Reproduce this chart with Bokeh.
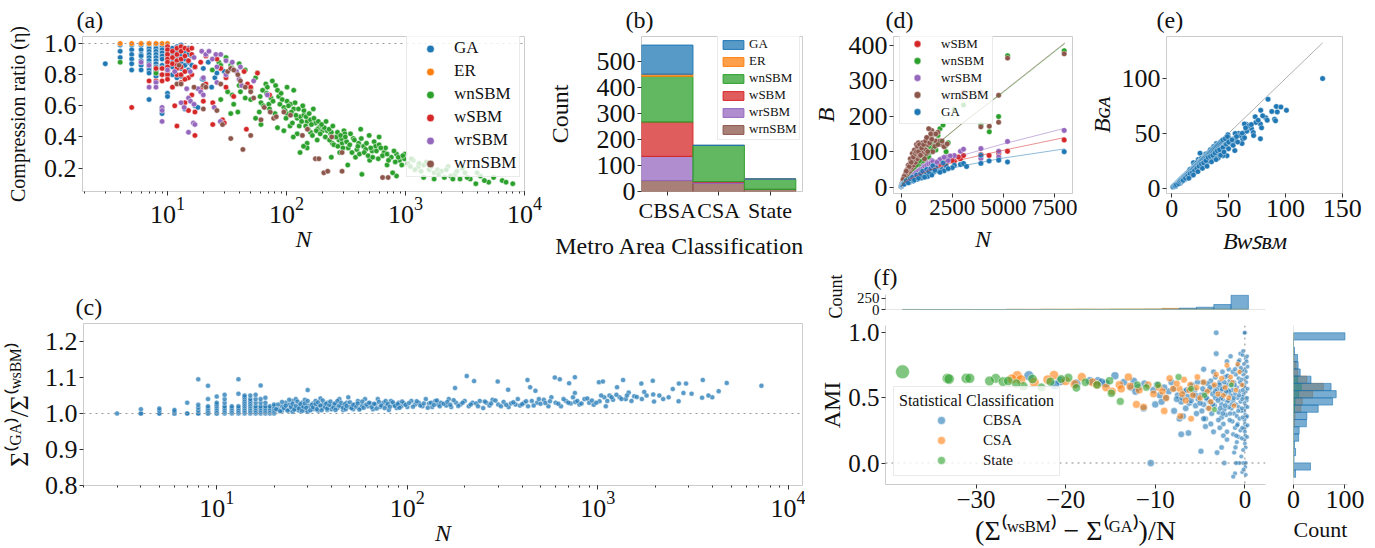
import numpy as np
from bokeh.plotting import figure
from bokeh.models import (Range1d, FixedTicker, Legend, LegendItem, Span, ColumnDataSource, Title,
                          PrintfTickFormatter)
from bokeh.layouts import row, column
from bokeh.embed import file_html
from bokeh.resources import INLINE

# ---------------------------------------------------------------- data
MODELS = ["GA", "ER", "wnSBM", "wSBM", "wrSBM", "wrnSBM"]
COL = {"GA": "#1f77b4", "ER": "#ff7f0e", "wnSBM": "#2ca02c", "wSBM": "#d62728",
       "wrSBM": "#9467bd", "wrnSBM": "#8c564b"}

# (a) compression ratio eta vs N, coloured by best model
a_ga = [(3,0.87),(4,0.99),(4,0.95),(4,0.91),(5,0.99),(5,0.96),(5,0.93),(5,0.90),(5,0.87),(5,0.83),
        (6,0.99),(6,0.96),(6,0.93),(6,0.92),(6,0.89),(6,0.86),(6,0.83),
        (7,0.99),(7,0.97),(7,0.95),(7,0.93),(7,0.91),(7,0.89),(7,0.87),(7,0.85),(7,0.83),(7,0.81),(7,0.64),
        (8,0.99),(8,0.97),(8,0.95),(8,0.93),(8,0.91),(8,0.89),(8,0.87),(8,0.85),(8,0.83),(8,0.81),(8,0.79),
        (9,0.98),(9,0.96),(9,0.94),(9,0.92),(9,0.90),(9,0.86),(9,0.84),(9,0.80),(9,0.58),(9,0.55),
        (10,0.98),(10,0.96),(10,0.94),(10,0.91),(10,0.89),(10,0.87),(10,0.85),(10,0.82),(10,0.79),(10,0.68),(10,0.66),
        (11,0.97),(11,0.94),(11,0.91),(11,0.88),(11,0.85),(11,0.80),(12,0.98),(12,0.95),(12,0.92),(12,0.89),(12,0.86),(12,0.78),
        (13,0.99),(13,0.96),(13,0.93),(13,0.88),(13,0.84),(13,0.79),(14,0.94),(14,0.90),(14,0.86),(14,0.58),
        (15,0.97),(15,0.93),(15,0.88),(15,0.83),(16,0.92),(16,0.86),(17,0.85),(17,0.60),(18,0.59),(19.6,0.77),
        (20,0.84),(20,0.77),(22,0.88),(23.5,0.72),(25,0.78),(26,0.81),(28,0.84),(30,0.82)]
a_er = [(4,1.0),(5,1.0),(6,1.0),(7,1.0),(7,1.0),(8,1.0),(9,1.0),(10,1.0)]
a_wnsbm = [(4,0.88),(8,0.81),(23.8,0.83),(27,0.88),(28,0.86),(31,0.91),(34,0.86),(40,0.87),(45,0.83),(55,0.78),
           (57,0.81),(40,0.73),(32,0.69),(28,0.64),(36,0.61),(35,0.67),(41,0.69),(50,0.71),(50,0.64),(61,0.62),
           (67,0.74),(69,0.72),(81,0.73),(84,0.70),(74,0.65),(59,0.56),(55,0.52),(39,0.56),(34,0.55),(61,0.48),
           (71,0.61),(86,0.66),(92,0.64),(101,0.63),(108,0.61),(95,0.59),(101,0.55),(115,0.58),(123,0.52),(131,0.53),
           (140,0.54),(149,0.50),(159,0.51),(175,0.49),(187,0.46),(200,0.44),(206,0.46),(220,0.44),(235,0.42),(259,0.40),
           (276,0.38),(304,0.44),(293,0.36),(318,0.37),(243,0.36),(181,0.38),(149,0.36),(123,0.42),(95,0.44),(84,0.46),
           (149,0.33),(327,0.22),(140,0.57),(168,0.58),(115,0.70),(101,0.72),(76,0.76),(63,0.70),(45,0.65),(35,0.84),
           (159,0.43),(182,0.45),(208,0.46),(238,0.43),(262,0.40),(290,0.39),(320,0.37),(364,0.39),(404,0.36),(445,0.34),
           (463,0.32),(390,0.32),(330,0.33),(280,0.30),(238,0.27),(139,0.34),(130,0.30),(114,0.40),(107,0.47),(309,0.42),
           (495,0.41),(600,0.40),(545,0.37),(524,0.31),(560,0.34),(600,0.35),(660,0.30),(680,0.33),(760,0.27),(840,0.29),
           (890,0.25),(980,0.26),(1050,0.23),(1160,0.25),(1280,0.21),(1420,0.22),(1580,0.19),(1740,0.17),(1860,0.19),(2120,0.14),
           (2280,0.21),(2600,0.16),(2870,0.13),(3160,0.17),(3500,0.13),(4260,0.15),(5000,0.11),(6500,0.12),(7970,0.10),(3900,0.10),
           (1740,0.13),(1420,0.14),(840,0.15),(780,0.17),(430,0.16),(990,0.29),(1200,0.19),(1500,0.24),(2000,0.18),(2400,0.15),
           (3000,0.20),(500,0.25),(700,0.22),(380,0.27),(420,0.45),
           (60,0.66),(64,0.60),(68,0.68),(72,0.58),(77,0.63),(80,0.55),(88,0.61),(90,0.68),(97,0.57),(99,0.52),
           (104,0.60),(110,0.56),(112,0.49),(118,0.62),(120,0.54),(126,0.58),(128,0.47),(134,0.50),(137,0.60),(145,0.47),
           (146,0.53),(152,0.45),(155,0.55),(162,0.48),(165,0.41),(170,0.52),(178,0.44),(185,0.50),(192,0.42),(197,0.48),
           (212,0.40),(215,0.50),(228,0.45),(230,0.38),(245,0.47),(250,0.35),(268,0.43),(270,0.34),(285,0.41),(298,0.33),
           (312,0.40),(340,0.35),(345,0.42),(355,0.30),(372,0.38),(398,0.34),(410,0.29),(425,0.39),(450,0.30),(470,0.36),
           (485,0.28),(510,0.33),(530,0.27),(570,0.31),(590,0.26),(620,0.33),(640,0.28),(700,0.29),(720,0.25),(800,0.31),
           (820,0.24),(870,0.27),(930,0.22),(950,0.28),(1100,0.21),(1120,0.26),(1300,0.23),(1350,0.18),(1650,0.21),(1900,0.16),
           (2200,0.19),(2500,0.13),(2700,0.18),(3300,0.14),(4000,0.17),(4600,0.12),(5500,0.14),(7000,0.11)]
a_wsbm = [(5,0.59),(7,0.76),(8,0.84),(8,0.76),(9,0.84),(9,0.80),(9,0.76),(10,0.98),(10,0.96),(10,0.93),(10,0.90),
          (10,0.88),(10,0.85),(10,0.82),(10,0.80),(10,0.77),(11,0.95),(11,0.91),(11,0.87),(11,0.72),(11.5,0.60),
          (12,0.97),(12,0.93),(12,0.89),(12,0.86),(12,0.80),(12,0.47),(13,0.98),(13,0.95),(13,0.90),(13,0.85),(13,0.80),
          (13,0.75),(14,0.97),(14,0.92),(14,0.82),(14,0.62),(15,0.96),(15,0.89),(15,0.78),(15,0.57),(16,0.97),(16,0.93),
          (16,0.80),(16,0.67),(17,0.85),(17,0.56),(17,0.41),(19,0.71),(19,0.88),(20,0.63),(21,0.74),(21,0.92),(24,0.48),
          (24,0.62),(26,0.90),(28,0.84),(29,0.51),(30,0.49),(31,0.72),(31,0.78),(36,0.66),(44,0.82),(46,0.45),(47,0.74),
          (50,0.72),(57,0.81),(72,0.67),(12,0.84),(14,0.77)]
a_wrsbm = [(6,0.88),(7,0.86),(7,0.72),(8,0.75),(8,0.72),(9,0.59),(9,0.57),(9,0.50),(10,0.83),(11.5,0.82),(13,0.62),
           (13.8,0.59),(14.5,0.71),(15,0.65),(15,0.43),(15.5,0.82),(15.6,0.63),(16.5,0.49),(16.7,0.91),(16.7,0.61),(17,0.48),
           (18,0.71),(19,0.69),(19.4,0.95),(20,0.67),(20,0.78),(21,0.93),(22.3,0.95),(23.8,0.90),(24.7,0.59),(25.5,0.93),
           (26,0.75),(26,0.85),(27.8,0.50),(28,0.93),(31,0.80),(31,0.89),(34,0.84),(35,0.88),(38,0.82),(40,0.77),(41,0.85),
           (42,0.73),(53,0.76),(69,0.67)]
a_wrnsbm = [(12,0.74),(12.5,0.86),(13,0.74),(16.7,0.72),(20,0.73),(20,0.58),(21,0.72),(26,0.57),(28,0.74),(29,0.48),
            (32,0.82),(34,0.84),(34,0.39),(36,0.83),(39,0.80),(41,0.76),(43,0.32),(45,0.72),(50,0.69),(50,0.41),(53,0.65),
            (61,0.51),(65,0.59),(73,0.56),(78,0.52),(82,0.53),(95,0.56),(108,0.54),(136,0.41),(175,0.26),(187,0.26),
            (206,0.17),(222,0.18),(293,0.18),(293,0.30),(642,0.14),(714,0.14),(150,0.45),(240,0.40)]

# (b) best model counts per metro-area classification
b_classes = ["CBSA", "CSA", "State"]
b_counts = {"GA": [112, 1, 0], "ER": [8, 0, 0], "wnSBM": [176, 139, 40],
            "wSBM": [132, 2, 0], "wrSBM": [93, 5, 0], "wrnSBM": [42, 31, 8]}

# (c) description-length ratio vs N
c_pts = [(3,1.0),(4,1.0),(4,1.0),(4,1.012),(5,1.0),(5,1.0),(5,1.008),(5,1.014),(6,1.0),(6,1.0),(6,1.005),(6,1.01),
         (7,1.0),(7,1.0),(7,1.03),(8,1.0),(8,1.0),(8,1.008),(8,1.016),(8,1.024),(8,1.095),
         (9,1.0),(9,1.0),(9,1.005),(9,1.01),(9,1.015),(9,1.02),(9,1.04),(9,1.077),
         (10,1.0),(10,1.0),(10,1.005),(10,1.01),(10,1.015),(10,1.02),(10,1.025),(10,1.03),(10,1.047),
         (11,1.0),(11,1.005),(11,1.01),(11,1.015),(11,1.02),(11,1.03),(11,1.04),(11,1.052),
         (12,1.0),(12,1.005),(12,1.01),(12,1.015),(12,1.02),(13,1.0),(13,1.005),(13,1.01),(13,1.015),(13,1.02),(13,1.055),(13,1.095),
         (14,1.0),(14,1.005),(14,1.01),(14,1.015),(14,1.02),(14,1.025),(14,1.03),(14,1.035),(14,1.04),(14,1.045),(14,1.05),
         (15,1.0),(15,1.005),(15,1.01),(15,1.015),(15,1.02),(15,1.025),(15,1.03),(15,1.035),(15,1.04),(15,1.05),
         (16,1.0),(16,1.005),(16,1.01),(16,1.015),(16,1.02),(16,1.03),(16,1.04),(16,1.052),
         (17,1.0),(17,1.005),(17,1.01),(17,1.015),(17,1.02),(17,1.03),(17,1.04),(17,1.078),
         (18,1.0),(18,1.005),(18,1.01),(18,1.015),(18,1.02),(18,1.03),(18,1.044),
         (19,1.0),(19,1.005),(19,1.01),(19,1.015),(19,1.02),(20,1.0),(20,1.005),(20,1.01),(20,1.015),(20,1.02),(20,1.025),
         (21,1.012),(22,1.008),(22,1.02),(23,1.015),(23,1.03),(24,1.01),(24,1.025),(25,1.005),(25,1.018),(25,1.035),
         (26,1.012),(26,1.04),(27,1.02),(27,1.008),(28,1.03),(28,1.015),(29,1.01),(29,1.038),(30,1.065),(30,1.022),
         (30,1.005),(31,1.018),(32,1.012),(32,1.028),(33,1.035),(34,1.02),(34,1.008),(35,1.042),(36,1.015),(36,1.025),
         (38,1.01),(38,1.03),(40,1.02),(40,1.012),(42,1.025),(43,1.015),(44,1.04),(45,1.02),(46,1.01),(48,1.03),
         (49,1.045),(50,1.018),(52,1.012),(53,1.025),(55,1.035),(57,1.015),(58,1.022),(60,1.04),(62,1.02),(64,1.028),
         (66,1.012),(68,1.025),(70,1.04),(72,1.018),(75,1.03),(78,1.022),(80,1.01),(82,1.035),(85,1.025),(88,1.015),
         (90,1.03),(93,1.02),(96,1.028),(100,1.018),(105,1.035),(110,1.025),(115,1.03),(120,1.02),(125,1.04),(130,1.028),
         (135,1.018),(140,1.035),(145,1.025),(150,1.03),(160,1.022),(165,1.04),(170,1.018),(180,1.03),(190,1.025),(200,1.035),
         (205,1.104),(178,1.071),(210,1.02),(220,1.03),(224,1.09),(230,1.028),(240,1.035),(250,1.015),(260,1.03),(270,1.022),
         (280,1.038),(298,1.089),(300,1.025),(310,1.02),(320,1.032),(338,1.066),(340,1.018),(350,1.028),(370,1.025),(390,1.022),
         (410,1.03),(427,1.093),(430,1.02),(441,1.073),(450,1.035),(470,1.063),(480,1.03),(500,1.027),(520,1.038),(550,1.02),
         (570,1.045),(594,1.1),(600,1.03),(631,1.095),(640,1.02),(680,1.035),(706,1.084),(720,1.028),(757,1.101),(757,1.057),
         (760,1.032),(800,1.025),(850,1.04),(900,1.03),(950,1.024),(1012,1.087),(1020,1.034),(1062,1.089),(1080,1.045),(1100,1.02),
         (1150,1.05),(1200,1.038),(1260,1.073),(1300,1.045),(1355,1.093),(1400,1.04),(1450,1.058),(1500,1.035),(1550,1.048),(1690,1.083),
         (1700,1.04),(1800,1.05),(1940,1.091),(1950,1.053),(1970,1.033),(2200,1.04),(2470,1.068),(2650,1.034),(2660,1.083),(2810,1.057),
         (2900,1.083),(3520,1.044),(3550,1.093),(3980,1.045),(4300,1.062),(4740,1.085),(7210,1.077),
         (20.5,1.012),(21,1.025),(21.5,1.006),(22,1.032),(22.5,1.015),(23,1.022),(23.5,1.008),(24,1.038),(24.5,1.018),(25,1.027),
         (25.5,1.011),(26,1.021),(26.5,1.033),(27,1.014),(27.5,1.026),(28,1.007),(28.5,1.019),(29,1.028),(29.5,1.016),(30,1.035),
         (31,1.009),(31.5,1.024),(32,1.017),(33,1.026),(33.5,1.012),(34,1.031),(35,1.022),(35.5,1.009),(36,1.036),(37,1.018),
         (37.5,1.027),(38,1.014),(39,1.024),(39.5,1.033),(41,1.017),(41.5,1.028),(42,1.01),(43,1.035),(44,1.022),(45,1.03),
         (46,1.016),(47,1.026),(47.5,1.012),(48,1.021),(50,1.031),(51,1.015),(52,1.024),(54,1.019),(55,1.028),(56,1.011),
         (58,1.033),(59,1.016),(61,1.025),(63,1.03),(65,1.018),(67,1.027),(69,1.014),(71,1.032),(73,1.022),(76,1.015),
         (77,1.035),(79,1.027),(81,1.019),(84,1.031),(86,1.021),(89,1.026),(91,1.016),(94,1.033),(98,1.024),(102,1.029),
         (107,1.019),(112,1.034),(117,1.022),(122,1.028),(128,1.016),(133,1.03),(138,1.024),(143,1.036),(148,1.02),(155,1.027),
         (162,1.032),(168,1.024),(175,1.037),(185,1.021),(195,1.03),(215,1.025),(235,1.02),(255,1.033),(275,1.028),(290,1.036),
         (330,1.024),(360,1.031),(380,1.04),(400,1.026),(420,1.034),(460,1.022),(490,1.04),(530,1.029),(560,1.034),(620,1.027),
         (660,1.04),(700,1.03),(740,1.045),(780,1.035),(820,1.028),(880,1.042),(930,1.036),(980,1.03),(1040,1.05),(1120,1.035),
         (1180,1.045),(1250,1.052),(1330,1.04),(1420,1.05),(1600,1.046),(1750,1.06),(2100,1.05),(2350,1.045),(3100,1.055),(3800,1.05)]

# (d) number of blocks B vs N per model, with fitted curves
d_ga = [(5,1),(10,2),(15,3),(20,3),(30,4),(40,5),(50,6),(70,7),(100,9),(130,10),(160,11),(200,12),(250,14),(300,15),
        (350,17),(400,18),(450,19),(500,20),(600,22),(700,25),(800,27),(900,29),(1000,30),(1100,33),(1200,35),(1300,36),
        (1400,38),(1500,40),(1600,43),(1800,46),(2000,50),(2100,46),(2600,62),(2900,64),(3050,67),(3200,58),(3900,67),
        (3900,90),(4300,74),(4770,76),(5200,71),(7970,100),(300,20),(400,13),(500,25),(600,17),(700,30),(800,22),(900,35),
        (1000,26),(1200,42),(1300,30),(1400,48),(1500,34),(1700,55),(1900,42),(2200,60),(2500,55),(150,8),(250,18),(350,12),
        (450,24),(550,28),(650,20),(750,34),(850,25),(950,38),(1050,45),(1150,28),(1250,50),(1350,44),(1450,52),(1550,60),
        (1650,48),(2050,68),(2300,52)]
d_wsbm = [(5,1),(10,2),(20,4),(40,6),(60,8),(100,11),(150,14),(200,16),(300,20),(400,24),(500,27),(600,30),(800,35),
          (1000,40),(1200,45),(1400,48),(1600,52),(1800,58),(2100,62),(2600,73),(2900,80),(3050,89),(3900,92),(4300,89),
          (4770,95),(5200,101),(7970,133),(250,22),(350,26),(450,30),(550,34),(700,38),(900,44),(1100,50),(1300,56),
          (1500,60),(1700,64),(2000,70),(2300,78),(2800,85),
          (150,13),(250,18),(350,22),(450,26),(550,30),(650,32),(750,36),(850,40),(950,42),(1050,44),(1150,48),(1250,50),
          (1350,52),(1450,56),(1550,58),(1650,60),(1800,63),(1900,66),(2200,70),(2500,75)]
d_wrsbm = [(10,2),(50,8),(100,12),(200,18),(400,26),(600,32),(800,40),(1000,45),(1200,55),(1400,63),(1600,70),(1800,72),
           (2000,80),(2200,85),(2600,89),(2900,101),(3050,107),(3900,109),(3900,81),(4770,85),(4770,101),(5200,129),(7970,160),
           (300,24),(500,30),(700,38),(900,48),(1100,60),(1300,68),(1500,75),(1700,66),(1900,78),(2400,88),
           (150,15),(250,20),(350,25),(450,28),(550,33),(650,36),(750,42),(850,46),(950,50),(1050,52),(1150,58),(1250,62),
           (1350,66),(1450,68),(1550,72),(1650,62),(1750,70),(2100,84),(2300,75)]
d_wnsbm = [(10,2),(50,8),(100,13),(200,22),(300,30),(400,38),(500,45),(600,50),(700,58),(800,70),(900,60),(1000,80),
           (1100,95),(1200,75),(1300,110),(1400,98),(1500,120),(1700,105),(1800,146),(1900,165),(2050,175),(2600,219),
           (3050,232),(3900,176),(4310,156),(4766,199),(5205,371),(7970,385),(250,35),(350,45),(450,52),(550,65),(650,75),
           (750,62),(850,90),(950,100),(1050,70),(1150,115),(1250,125),(1350,85),(1450,140),(1600,130),(2150,115),(2300,125),
           (300,40),(400,50),(500,60),(600,70),(700,80),(800,90),(900,75),(1000,100),(1100,85),(1200,110),(1300,95),
           (1400,115),(1600,110),(2000,120),(2200,100)]
d_wrnsbm = [(10,3),(50,10),(100,16),(200,26),(300,36),(400,45),(500,55),(600,62),(700,70),(800,80),(900,88),(1000,90),
            (1100,100),(1200,105),(1300,120),(1400,140),(1500,160),(1600,150),(1700,130),(1800,155),(2000,120),(2100,114),
            (2930,254),(3050,268),(3900,268),(3900,170),(4310,172),(4766,259),(4766,183),(5205,364),(7970,376),(150,25),
            (250,40),(350,50),(450,68),(550,75),(650,90),(750,120),(850,125),(950,110),(1050,125),(1150,80),(1250,95),
            (1350,165),(1450,150),(1550,100),(1650,115),(1900,130),(2250,122),
            (300,50),(350,62),(400,58),(450,80),(500,70),(550,95),(600,85),(650,105),(700,95),(750,100),(800,115),
            (850,100),(900,120),(950,90),(1000,110),(1100,120),(1200,130),(1250,140),(1300,100),(1400,125),(1500,135),
            (1700,150),(1800,120),(2000,130),(200,35),(250,45),(150,30),(100,22)]
d_fit_n = [10, 100, 300, 700, 1500, 3000, 5000, 8000]
d_fit = {"wSBM": [2, 9, 18, 30, 50, 78, 104, 140],
         "wnSBM": [2, 10, 28, 55, 108, 180, 268, 405],
         "wrSBM": [2, 10, 20, 34, 56, 90, 122, 166],
         "wrnSBM": [2, 10, 28, 56, 109, 181, 270, 407],
         "GA": [2, 8, 15, 25, 40, 60, 82, 108]}

# (e) B_GA vs B_wSBM
e_pts = [(132.7,100),(100.9,71),(92,74.5),(92.8,69.6),(90.5,62.9),(91.3,61.4),(84.7,81.2),(82.7,64.3),(78.3,71),(78,58.6),
         (79,55),(78,45),(73.4,65.2),(65.9,58),(63.9,58.6),(65.3,53.6),(70.2,54.2),(71.7,50.7),(63,49.9),(58.7,49.9),
         (55.8,49.9),(54.3,44.9),(54.6,42.9),(55.5,34.2),(62.4,44.9),(61.8,40.6),(49.4,48.7),(48,46.4),(48.6,29.6),(45,29.6),
         (40.8,27.5),(43.6,36.2),(39.3,40.6),(42.2,41.2),(36.4,37.1),(33.5,33.3),(30.6,21.7),(27.7,29),(24.9,31.9),(23.4,26.1),
         (19.1,23.2),(17.6,11.6),(13.3,10.1),(10.4,7.2),(7.5,4.3),(3.2,1.4),
         (1,1),(2,2),(3,3),(4,4),(5,5),(6,6),(7,7),(8,8),(9,9),(10,10),(11,11),(12,12),(13,13),(14,14),(15,15),(16,16),
         (17,17),(18,18),(19,19),(20,20),(21,21),(22,22),(24,24),(25,25),(26,26),(28,28),(30,30),(32,32),(34,34),(36,36),
         (38,38),(5,4),(6,5),(8,6),(9,7),(10,8),(11,9),(12,10),(13,11),(14,12),(15,13),(16,14),(17,14),(18,15),(19,16),
         (20,17),(21,18),(22,19),(23,20),(24,21),(25,22),(26,23),(27,24),(28,25),(29,26),(30,26),(31,28),(32,27),(33,30),
         (34,30),(35,32),(36,33),(38,34),(40,36),(42,38),(44,40),(46,42),(48,44),(50,46),(12,8),(14,10),(16,12),(18,13),
         (20,14),(22,16),(24,18),(26,20),(28,22),(30,24),(32,25),(35,27),(38,30),(40,32),(44,34),(47,38),(52,41),(56,45),
         (60,48),(66,52),(68,57),(74,60),(84,62),(3,2),(4,3),(7,5),(9,6),(11,8),(13,9),(15,11),(17,12),(19,14),(21,15),
         (23,17),(25,19),(27,21),(29,23),(31,24),(20,21),(22,23),(26,27),(30,31),(16,17),(34,35),(37,38),
         (6,4),(7,6),(8,7),(9,8),(10,9),(11,10),(12,11),(13,12),(14,13),(15,14),(16,15),(17,16),(18,17),(19,18),(20,19),
         (21,20),(22,21),(23,22),(24,23),(25,24),(26,25),(27,26),(28,27),(29,28),(30,29),(31,30),(32,31),(33,32),(34,33),
         (35,34),(36,35),(37,36),(38,37),(39,38),(40,39),(41,40),(42,41),(43,42),(44,43),(45,44),(47,45),(49,47),
         (10,7),(12,9),(14,11),(16,13),(18,14),(20,16),(22,18),(24,20),(26,22),(28,23),(30,25),(32,28),(34,29),(36,30),
         (38,32),(40,34),(42,35),(45,37),(48,40),(50,42),(53,44),(57,47),(62,50),(65,55),(70,58),(76,62),(80,66),(88,70),
         (96,74),(15,9),(19,12),(23,15),(27,18),(31,20),(35,24),(39,26),(43,30),(46,33),(50,36),(54,39),(58,42),(64,46),(72,48)]

# (f) AMI vs (Sigma_wSBM - Sigma_GA)/N, triples (x, AMI, N)
f_cbsa = [(0.0,1.0,10),(0.05,1.0,8),(-0.05,1.0,12),(0.1,0.80,30),(0.2,0.78,25),(-0.1,0.76,40),(0.0,0.72,35),(0.1,0.70,20),
          (-0.2,0.68,45),(0.05,0.65,30),(0.15,0.62,25),(-0.1,0.60,50),(0.0,0.58,40),(0.1,0.55,30),(-0.15,0.53,60),(0.05,0.50,35),
          (0.2,0.48,25),(-0.05,0.46,45),(0.1,0.44,30),(0.0,0.42,40),(-0.1,0.40,55),(0.05,0.37,35),(0.15,0.35,20),(-0.05,0.33,40),
          (0.0,0.30,30),(0.1,0.28,25),(-0.1,0.26,45),(0.0,0.24,30),(0.05,0.21,25),(-0.05,0.18,35),(0.0,0.15,20),(0.1,0.12,15),
          (0.0,0.0,10),(-0.2,0.0,15),(0.1,0.0,8),(-0.3,-0.07,12),(0.05,-0.03,10),
          (-0.5,0.84,60),(-0.6,0.79,70),(-0.8,0.75,80),(-0.5,0.70,60),(-1.0,0.68,90),(-0.7,0.65,70),(-1.2,0.62,100),(-0.4,0.60,50),
          (-0.9,0.58,80),(-1.4,0.56,110),(-0.6,0.55,60),(-1.1,0.53,90),(-0.3,0.51,40),(-0.8,0.50,70),(-1.3,0.48,100),(-0.5,0.47,50),
          (-1.0,0.45,80),(-0.7,0.43,60),(-1.5,0.42,120),(-0.4,0.40,45),(-1.2,0.38,90),(-0.9,0.36,70),(-0.6,0.34,55),(-1.4,0.32,100),
          (-0.8,0.30,60),(-1.1,0.27,80),(-0.5,0.25,40),(-1.3,0.22,90),(-0.7,0.20,50),(-0.9,0.16,60),(-1.2,0.08,70),(-0.8,0.0,40),
          (-1.1,-0.08,50),(-1.3,-0.105,60),(-0.6,0.0,30),(-1.0,0.0,45),
          (-1.6,0.82,120),(-2.0,0.78,150),(-1.8,0.72,130),(-2.5,0.70,180),(-2.2,0.66,160),(-1.7,0.63,120),(-2.8,0.62,200),
          (-2.0,0.60,150),(-2.4,0.58,170),(-1.9,0.56,140),(-2.7,0.55,190),(-2.2,0.53,160),(-1.6,0.52,120),(-2.9,0.51,200),
          (-2.5,0.49,180),(-2.0,0.47,150),(-2.6,0.45,180),(-1.8,0.43,130),(-2.3,0.41,160),(-2.9,0.39,200),(-2.1,0.37,150),
          (-2.6,0.35,180),(-1.7,0.33,120),(-2.4,0.30,170),(-2.8,0.27,190),(-2.0,0.24,140),(-2.4,0.21,160),(-2.6,0.12,170),
          (-2.3,0.0,150),(-2.0,0.18,140),
          (-3.2,1.0,200),(-3.2,0.84,220),(-3.5,0.70,250),(-4.6,0.72,320),(-3.3,0.66,230),(-3.8,0.63,260),(-4.2,0.61,290),
          (-3.5,0.59,240),(-4.7,0.62,330),(-3.1,0.57,210),(-4.0,0.56,280),(-4.5,0.54,310),(-3.6,0.53,250),(-4.9,0.52,350),
          (-3.3,0.50,230),(-4.2,0.49,290),(-3.9,0.47,270),(-4.6,0.45,320),(-3.4,0.44,240),(-4.1,0.42,280),(-4.8,0.40,340),
          (-3.7,0.38,260),(-4.4,0.34,300),(-3.8,0.30,260),(-4.6,0.34,320),(-4.4,0.28,300),(-3.1,0.08,210),(-4.9,0.09,340),
          (-3.5,0.24,240),
          (-5.3,0.62,380),(-5.6,0.56,400),(-6.0,0.58,430),(-6.4,0.51,460),(-5.8,0.53,420),(-6.8,0.55,500),(-7.1,0.47,520),
          (-7.5,0.52,550),(-5.2,0.49,370),(-6.2,0.46,450),(-5.5,0.44,400),(-6.6,0.42,480),(-7.9,0.57,600),(-7.9,0.40,600),
          (-7.1,0.22,520),(-6.3,0.23,460),(-7.3,0.34,530),(-5.4,0.38,390),(-6.9,0.36,500),(-7.6,0.49,560),(-5.9,0.60,420),
          (-8.5,0.55,650),(-9.0,0.58,700),(-9.5,0.52,750),(-10.0,0.45,800),(-10.5,0.0,850),(-8.8,0.50,680),(-9.3,0.47,720),
          (-11.2,0.61,900),(-11.9,0.58,950),(-12.7,0.58,1000),(-10.2,0.56,820),(-8.2,0.62,620),(-9.8,0.60,780),(-11.3,0.42,900),
          (-12.2,0.55,980),
          (-24.1,0.67,3000),(-20.6,0.63,2200),(-17.3,0.63,1700),(-16.4,0.63,1600),(-14.5,0.67,1300),(-12.4,0.63,1000),
          (-13.5,0.62,1100),(-15.5,0.61,1400),(-18.8,0.61,2000),(-21.2,0.60,2400),(-16.0,0.62,1500),
          (0.25,0.82,20),(0.3,0.74,25),(0.25,0.66,20),(0.3,0.57,25),(0.25,0.50,20),(0.3,0.43,25),(0.25,0.36,20),(0.3,0.29,25),
          (0.25,0.20,20),(-0.25,0.83,40),(-0.3,0.71,45),(-0.35,0.64,40),(-0.25,0.56,45),(-0.3,0.49,40),(-0.35,0.42,45),
          (-0.25,0.35,40),(-0.3,0.27,45),(-0.35,0.19,40),(-0.2,0.10,30),(-0.4,0.05,35),(0.1,-0.09,15),(-0.15,-0.05,20),
          (-0.45,0.73,55),(-0.55,0.62,60),(-0.65,0.52,65),(-0.75,0.40,70),(-0.85,0.29,75),(-0.95,0.21,80),(-1.05,0.12,85),
          (-1.15,0.60,90),(-1.25,0.50,95),(-1.35,0.70,100),(-1.45,0.45,105),(-1.55,0.60,110),(-1.65,0.38,115),(-1.75,0.55,120),
          (-1.85,0.48,125),(-1.95,0.67,130),(-2.1,0.55,140),(-2.2,0.44,150),(-2.3,0.62,160),(-2.45,0.38,170),(-2.55,0.57,180),
          (-2.65,0.50,185),(-2.75,0.42,190),(-2.85,0.60,200),(-2.95,0.33,205),(-3.0,0.48,210),(-3.3,0.55,230),(-3.6,0.45,250),
          (-3.9,0.58,270),(-4.3,0.50,300),(-4.7,0.57,330),(-5.0,0.46,360),(-5.5,0.52,400),(-6.0,0.48,430),(-6.5,0.56,470),
          (-7.0,0.50,510),(-0.7,0.78,70),(-1.1,0.72,90),(-0.2,0.86,40)]
f_csa = [(-25.4,0.67,3000),(-26.0,0.645,2900),(-25.0,0.64,2800),(-21.3,0.675,2300),(-18.2,0.66,2000),(-19.0,0.605,2000),
         (-15.5,0.58,1600),(-13.0,0.66,1300),(-14.0,0.60,1400),(-12.1,0.45,1200),(-11.3,0.43,1100),(-9.6,0.58,900),
         (-8.4,0.65,800),(-7.3,0.57,700),(-6.1,0.60,600),(-5.3,0.66,500),(-6.0,0.34,550),(-23.5,0.62,2700),(-22.0,0.64,2500),
         (-20.0,0.63,2200),(-17.0,0.62,1800),(-16.5,0.60,1700),(-14.8,0.55,1500),(-13.8,0.57,1400),(-12.8,0.59,1300),
         (-11.8,0.56,1200),(-10.8,0.60,1050),(-10.2,0.53,1000),(-9.2,0.55,900),(-8.8,0.50,850),(-8.0,0.57,780),(-7.6,0.61,740),
         (-7.0,0.53,680),(-6.6,0.48,640),(-6.2,0.56,600),(-5.8,0.52,560),(-5.4,0.58,520),(-5.0,0.50,480),(-4.6,0.62,440),
         (-4.2,0.55,400),(-3.8,0.47,360),(-3.4,0.60,330),(-3.0,0.53,300),(-2.6,0.65,260),(-2.2,0.58,230),(-1.8,0.50,200),
         (-1.4,0.62,170),(-1.0,0.56,150),(-0.6,0.70,120),(-0.3,0.60,100),(-2.0,0.75,200),(-1.2,0.44,160),(-4.0,0.42,380),
         (-7.2,0.36,700),(-9.0,0.40,880),(-3.2,0.68,310),(-0.8,0.76,130),(-1.6,0.66,180),(-2.4,0.52,240),(-6.8,0.64,660)]
f_state = [(-38.2,0.70,8000),(-33.2,0.65,3300),(-33.0,0.645,3200),(-31.1,0.65,3000),(-30.7,0.65,2900),(-27.8,0.65,2700),
           (-27.0,0.625,2500),(-26.4,0.63,2400),(-23.7,0.645,2300),(-24.7,0.59,2000),(-22.7,0.58,1800),(-21.7,0.625,1900),
           (-19.7,0.655,2000),(-20.5,0.645,1700),(-18.8,0.577,1600),(-15.1,0.632,1400),(-14.9,0.535,1300),(-13.9,0.473,1200),
           (-12.0,0.60,1100),(-7.4,0.66,700),(-9.7,0.60,800),(-3.4,0.41,300),(-16.5,0.60,1500),(-17.8,0.62,1500),
           (-25.5,0.61,2200),(-28.5,0.63,2600),(-11.0,0.58,1000),(-6.0,0.57,600),(-4.5,0.52,400),(-1.5,0.60,200)]
# marginal histograms (20 bins each), counts per classification
f_xbin_range = (-38.2, 0.39)
f_xhist = {"CBSA": [0,0,0,0,0,0,0,0,1,0,1,1,2,2,4,8,30,50,110,318],
           "CSA": [0,0,0,0,0,0,3,3,5,5,6,6,8,10,12,25,14,12,8,6],
           "State": [1,0,0,1,0,0,3,2,3,3,4,3,4,3,3,3,3,2,2,2]}
f_ybin_range = (-0.11, 1.0)
f_yhist = {"CBSA": [4,33,1,4,2,10,11,25,26,48,76,83,73,34,13,9,8,2,0,100],
           "CSA": [0,0,0,0,0,0,0,2,3,14,17,37,58,26,8,5,1,0,0,0],
           "State": [0,0,0,0,0,0,0,0,0,2,3,10,15,8,0,0,0,0,0,0]}
F_COL = {"CBSA": "#1f77b4", "CSA": "#ff7f0e", "State": "#2ca02c"}

# ---------------------------------------------------------------- style helpers
FONT = "Liberation Serif"
TXT = "#111111"
SPINE = "#cccccc"


def mkfig(w, h, l, r, t, b, box=True, tickfs=26, **kw):
    p = figure(width=w, height=h, min_border_left=l, min_border_right=r, min_border_top=t,
               min_border_bottom=b, toolbar_location=None, output_backend="svg", title=None, **kw)
    p.grid.visible = False
    p.outline_line_color = SPINE if box else None
    p.background_fill_color = "white"
    p.border_fill_color = "white"
    for ax in p.axis:
        ax.axis_line_color = None if box else SPINE
        ax.major_tick_line_color = "#333333"
        ax.major_tick_out = 4
        ax.major_tick_in = 0
        ax.minor_tick_line_color = "#333333"
        ax.minor_tick_out = 2
        ax.minor_tick_in = 0
        ax.major_label_text_font = FONT
        ax.major_label_text_font_size = f"{tickfs}px"
        ax.major_label_text_color = TXT
        ax.major_label_standoff = 2
    return p


def axlab(ax, text, size=24, standoff=0, style="normal"):
    ax.axis_label = text
    ax.axis_label_text_font = FONT
    ax.axis_label_text_font_size = f"{size}px"
    ax.axis_label_text_font_style = style
    ax.axis_label_text_color = TXT
    ax.axis_label_standoff = standoff


def side_title(p, text, side, align, offset, standoff, size=24, style="normal"):
    p.add_layout(Title(text=text, align=align, offset=offset, text_font=FONT, text_font_size=f"{size}px",
                       text_font_style=style, text_color=TXT, standoff=standoff), side)


def mklegend(items, loc, font, gw, gh, lh, spacing, padding, standoff):
    return Legend(items=items, location=loc, orientation="vertical", label_text_font=FONT,
                  label_text_font_size=f"{font}px", label_text_color=TXT, glyph_width=gw, glyph_height=gh,
                  label_height=lh, spacing=spacing, padding=padding, margin=0, label_standoff=standoff,
                  border_line_color="#d6d6d6", border_line_width=1, background_fill_color="white",
                  background_fill_alpha=0.8)


FMT1 = PrintfTickFormatter(format="%.1f")

# ---------------------------------------------------------------- (a)
pa = mkfig(543, 264, 82, 19, 34, 66, x_axis_type="log", x_range=Range1d(1.93, 10000),
           y_range=Range1d(0.05, 1.045))
pa.add_layout(Span(location=1.0, dimension="width", line_color="#999999", line_dash="dotted", line_width=1))
a_series = {"GA": a_ga, "ER": a_er, "wnSBM": a_wnsbm, "wSBM": a_wsbm, "wrSBM": a_wrsbm, "wrnSBM": a_wrnsbm}
a_r = {}
for m in MODELS:
    xs, ys = zip(*a_series[m])
    a_r[m] = pa.scatter(list(xs), list(ys), size=5.5, fill_color=COL[m], line_color="white", line_width=0.5)
pa.yaxis.ticker = FixedTicker(ticks=[0.2, 0.4, 0.6, 0.8, 1.0])
pa.yaxis.formatter = FMT1
pa.add_layout(mklegend([LegendItem(label=m, renderers=[a_r[m]]) for m in MODELS], (324, 14), 17,
                       40, 19, 19, 3, 3, 4))
side_title(pa, "(a)", "above", "left", -6, 8)
axlab(pa.yaxis[0], "Compression ratio (η)", size=20, standoff=12)
axlab(pa.xaxis[0], "N", style="italic")

# ---------------------------------------------------------------- (b)
pb = mkfig(262, 264, 88, 3, 34, 65, x_range=Range1d(-0.5, 2.63), y_range=Range1d(0, 596))
stack_order = ["wrnSBM", "wrSBM", "wSBM", "wnSBM", "ER", "GA"]
bsrc = ColumnDataSource(dict(x=list(range(len(b_classes))), **{m: b_counts[m] for m in stack_order}))
b_r = pb.vbar_stack(stack_order, x="x", width=1.0, source=bsrc,
                    fill_color=[COL[m] for m in stack_order], line_color=[COL[m] for m in stack_order],
                    fill_alpha=0.75, line_width=1)
b_rd = dict(zip(stack_order, b_r))
pb.xaxis.ticker = FixedTicker(ticks=list(range(len(b_classes))))
pb.xaxis.major_label_overrides = {i: c for i, c in enumerate(b_classes)}
pb.xaxis.major_label_text_font_size = "22px"
pb.yaxis.ticker = FixedTicker(ticks=[0, 100, 200, 300, 400, 500])
pb.add_layout(mklegend([LegendItem(label=m, renderers=[b_rd[m]]) for m in MODELS], (76, 51), 13,
                       26, 11, 16, 1, 2, 3))
side_title(pb, "(b)", "above", "left", -16, 8)
axlab(pb.yaxis[0], "Count", standoff=21)
side_title(pb, "Metro Area Classification", "below", "right", -2, 11)

# ---------------------------------------------------------------- (d)
pd_ = mkfig(280, 256, 88, 13, 34, 57, x_range=Range1d(-371, 8376), y_range=Range1d(-18, 425))
d_series = {"wSBM": d_wsbm, "wnSBM": d_wnsbm, "wrSBM": d_wrsbm, "wrnSBM": d_wrnsbm, "GA": d_ga}
d_order = ["wSBM", "wnSBM", "wrSBM", "wrnSBM", "GA"]
d_r = {}
for m in d_order:
    xs, ys = zip(*d_series[m])
    d_r[m] = pd_.scatter(list(xs), list(ys), size=5.5, fill_color=COL[m], line_color="white", line_width=0.4)
for m in d_order:
    pd_.line(d_fit_n, d_fit[m], line_color=COL[m], line_alpha=0.5, line_width=1)
pd_.xaxis.ticker = FixedTicker(ticks=[0, 2500, 5000, 7500])
pd_.xaxis.major_label_text_font_size = "23px"
pd_.yaxis.ticker = FixedTicker(ticks=[0, 100, 200, 300, 400])
pd_.add_layout(mklegend([LegendItem(label=m, renderers=[d_r[m]]) for m in d_order], (6, 69), 13,
                        28, 17, 17, 0, 3, 10))
side_title(pd_, "(d)", "above", "left", -8, 8)
axlab(pd_.yaxis[0], "B", standoff=7, style="italic")
axlab(pd_.xaxis[0], "N", standoff=8, style="italic")

# ---------------------------------------------------------------- (e)
pe = mkfig(290, 256, 78, 33, 34, 57, x_range=Range1d(-4.6, 150.2), y_range=Range1d(-5, 138.5))
ex, ey = zip(*e_pts)
emax = max(ex)
pe.line([0, emax], [0, emax], line_color="#b0b0b0", line_width=1)
pe.scatter(list(ex), list(ey), size=5.5, fill_color=COL["GA"], line_color="white", line_width=0.4)
pe.xaxis.ticker = FixedTicker(ticks=[0, 50, 100, 150])
pe.yaxis.ticker = FixedTicker(ticks=[0, 50, 100])
side_title(pe, "(e)", "above", "left", -10, 8)
axlab(pe.yaxis[0], "Bɢᴀ", standoff=4, style="italic")
axlab(pe.xaxis[0], "Bᴡꜱʙᴍ", standoff=8, style="italic")

# ---------------------------------------------------------------- (c)
pc = mkfig(805, 284, 83, 3, 59, 60, x_axis_type="log", x_range=Range1d(2.0, 11840),
           y_range=Range1d(0.8, 1.25))
pc.add_layout(Span(location=1.0, dimension="width", line_color="#999999", line_dash="dotted", line_width=1))
cx, cy = zip(*c_pts)
pc.scatter(list(cx), list(cy), size=5, fill_color=COL["GA"], fill_alpha=0.75, line_color="white",
           line_width=0.4)
pc.yaxis.ticker = FixedTicker(ticks=[0.8, 0.9, 1.0, 1.1, 1.2])
pc.yaxis.formatter = FMT1
side_title(pc, "(c)", "above", "left", -8, 8)
axlab(pc.yaxis[0], "Σ⁽ᴳᴬ⁾/Σ⁽ʷˢᴮᴹ⁾", size=26, standoff=8)
axlab(pc.xaxis[0], "N", style="italic")

# ---------------------------------------------------------------- (f)
fx_rng = Range1d(-40.1, 2.3)
fy_rng = Range1d(-0.165, 1.056)


def fsize(n):
    return 4 + 10 * np.sqrt(np.asarray(n, dtype=float) / 8000.0)


pf = mkfig(475, 230, 80, 15, 7, 60, box=False, tickfs=25, x_range=fx_rng, y_range=fy_rng)
pf.add_layout(Span(location=0, dimension="height", line_color="#888888", line_dash="dotted", line_width=1))
pf.add_layout(Span(location=0, dimension="width", line_color="#888888", line_dash="dotted", line_width=1))
f_series = {"CBSA": f_cbsa, "CSA": f_csa, "State": f_state}
f_r = {}
for k in ["CBSA", "CSA", "State"]:
    xs, ys, ns = zip(*f_series[k])
    f_r[k] = pf.scatter(list(xs), list(ys), size=fsize(ns), fill_color=F_COL[k], fill_alpha=0.6,
                        line_color="white", line_width=0.5)
pf.xaxis.ticker = FixedTicker(ticks=[-30, -20, -10, 0])
pf.xaxis.major_label_overrides = {-30: "−30", -20: "−20", -10: "−10", 0: "0"}
pf.yaxis.ticker = FixedTicker(ticks=[0.0, 0.5, 1.0])
pf.yaxis.formatter = FMT1
flg = mklegend([LegendItem(label=k, renderers=[f_r[k]]) for k in ["CBSA", "CSA", "State"]], (8, 8), 15,
               84, 20, 20, 0, 5, 0)
flg.title = "Statistical Classification"
flg.title_text_font = FONT
flg.title_text_font_size = "16px"
flg.title_text_font_style = "normal"
flg.title_text_color = TXT
flg.title_standoff = 0
pf.add_layout(flg)
axlab(pf.yaxis[0], "AMI")
axlab(pf.xaxis[0], "(Σ⁽ʷˢᴮᴹ⁾ − Σ⁽ᴳᴬ⁾)/N", size=28, standoff=4)

# top marginal
pt = mkfig(570, 62, 80, 110, 32, 9, box=False, tickfs=15, x_axis_location=None, x_range=fx_rng,
           y_range=Range1d(0, 333))
xe = np.linspace(f_xbin_range[0], f_xbin_range[1], len(f_xhist["CBSA"]) + 1)
for k, a in [("CSA", 0.5), ("State", 0.5), ("CBSA", 0.6)]:
    pt.quad(left=xe[:-1], right=xe[1:], bottom=0, top=f_xhist[k], fill_color=F_COL[k], fill_alpha=a,
            line_color=F_COL[k], line_alpha=0.6, line_width=1)
pt.add_layout(Span(location=0, dimension="width", line_color=SPINE, line_width=1))
pt.yaxis.ticker = FixedTicker(ticks=[0, 250])
side_title(pt, "(f)", "above", "left", -12, 10)
side_title(pt, "Count", "left", "left", -9, 16, size=18)

# right marginal
pr = mkfig(95, 230, 13, 28, 7, 60, box=False, y_axis_location=None, x_range=Range1d(0, 105),
           y_range=fy_rng)
ye = np.linspace(f_ybin_range[0], f_ybin_range[1], len(f_yhist["CBSA"]) + 1)
for k, a in [("CSA", 0.5), ("State", 0.5), ("CBSA", 0.6)]:
    pr.quad(left=0, right=f_yhist[k], bottom=ye[:-1], top=ye[1:], fill_color=F_COL[k], fill_alpha=a,
            line_color=F_COL[k], line_alpha=0.6, line_width=1)
pr.add_layout(Span(location=0, dimension="height", line_color=SPINE, line_width=1))
pr.xaxis.ticker = FixedTicker(ticks=[0, 100])
axlab(pr.xaxis[0], "Count", size=22, standoff=6)

# ---------------------------------------------------------------- layout
left_col = column(row(pa, pb), pc)
right_col = column(row(pd_, pe), pt, row(pf, pr))
layout = row(left_col, right_col)
open("out.html", "w").write(file_html(layout, INLINE))
